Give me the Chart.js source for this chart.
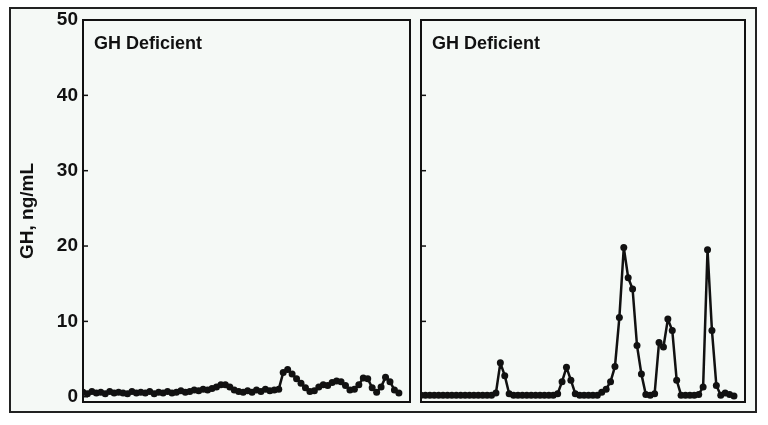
<!DOCTYPE html>
<html><head><meta charset="utf-8">
<script src="https://cdn.jsdelivr.net/npm/chart.js@4.4.0/dist/chart.umd.min.js"></script>
<style>
html,body{margin:0;padding:0;background:#fff;width:768px;height:425px;overflow:hidden}
#frame{position:absolute;left:9px;top:7px;width:744px;height:402px;border:2px solid #222;background:#f5f9f6}
canvas{position:absolute;left:0;top:0}
</style></head><body>
<div id="frame"></div>
<canvas id="c1" width="768" height="425"></canvas>
<canvas id="c2" width="768" height="425"></canvas>
<script>
const panelTitles = ["GH Deficient", "GH Deficient"];
const yTitle = "GH, ng/mL";
const yTicks = [0, 10, 20, 30, 40, 50];
const leftValues = [0.6,0.4,0.7,0.5,0.6,0.4,0.7,0.5,0.6,0.5,0.4,0.7,0.5,0.6,0.5,0.7,0.4,0.6,0.5,0.7,0.5,0.6,0.8,0.6,0.7,0.9,
  0.8,1.0,0.9,1.1,1.3,1.6,1.6,1.3,0.9,0.7,0.6,0.8,0.6,0.9,0.7,1.0,0.8,0.9,1.0,3.2,3.6,3.0,2.4,
  1.8,1.2,0.7,0.8,1.3,1.6,1.5,1.9,2.1,2.0,1.5,0.9,1.0,1.6,2.5,2.4,1.2,0.6,1.3,2.6,2.0,0.9,0.5];
const rightValues = [0.2,0.2,0.2,0.2,0.2,0.2,0.2,0.2,0.2,0.2,0.2,0.2,0.2,0.2,0.2,0.2,0.2,
  0.5,4.5,2.8,0.4,0.2,0.2,0.2,0.2,0.2,0.2,0.2,0.2,0.2,0.2,0.4,2.0,3.9,2.2,0.4,0.2,0.2,0.2,0.2,0.2,
  0.6,1.0,2.0,4.0,10.5,19.8,15.8,14.3,6.8,3.0,0.3,0.2,0.4,7.2,6.6,10.3,8.8,2.2,0.2,0.2,0.2,0.2,0.3,
  1.3,19.5,8.8,1.5,0.2,0.5,0.3,0.1];

const FONT = "'Liberation Sans', Arial, sans-serif";
function toXY(arr){ return arr.map((v,i)=>({x:i,y:v})); }

function panelPlugin(title){
  return {
    id:'panel',
    afterDraw(chart){
      const a = chart.chartArea, ctx = chart.ctx, ys = chart.scales.y;
      ctx.save();
      ctx.strokeStyle = '#111'; ctx.lineWidth = 2;
      ctx.strokeRect(a.left, a.top, a.right-a.left, a.bottom-a.top);
      ctx.lineWidth = 1.5;
      yTicks.forEach(v=>{
        const y = ys.getPixelForValue(v);
        ctx.beginPath(); ctx.moveTo(a.left, y); ctx.lineTo(a.left+5, y); ctx.stroke();
      });
      ctx.fillStyle = '#111';
      ctx.font = "bold 18px " + FONT;
      ctx.textBaseline = 'middle';
      ctx.fillText(title, a.left + 11, 44);
      ctx.restore();
    }
  };
}

function makeChart(id, values, title, padding, showY){
  return new Chart(document.getElementById(id), {
    type:'line',
    data:{ datasets:[{ data: toXY(values), borderColor:'#111', backgroundColor:'#111',
      borderWidth:2.5, borderJoinStyle:'round', pointRadius:3.5, pointBackgroundColor:'#111', pointBorderWidth:0, tension:0 }]},
    options:{
      responsive:false, animation:false, maintainAspectRatio:false,
      layout:{ padding },
      plugins:{ legend:{display:false}, tooltip:{enabled:false} },
      scales:{
        x:{ type:'linear', min:0, max:73.5, display:false },
        y:{ type:'linear', min:-0.7, max:50, display: showY,
          afterBuildTicks: s => { s.ticks = yTicks.map(v=>({value:v})); },
          afterFit: s => { if (showY) s.width = 68; else s.width = 0; },
          grid:{ display:false, drawTicks:false },
          border:{ display:false },
          ticks:{ color:'#111', padding:5, font:{ family:FONT, size:19, weight:'bold' } },
          title:{ display:true, text:yTitle, color:'#111', font:{ family:FONT, size:19, weight:'bold' }, padding:{top:1,bottom:1} }
        }
      }
    },
    plugins:[panelPlugin(title)]
  });
}

makeChart('c1', leftValues, panelTitles[0], {left:15, right:358, top:20, bottom:23}, true);
makeChart('c2', rightValues, panelTitles[1], {left:421, right:23, top:20, bottom:23}, false);
</script>
</body></html>
